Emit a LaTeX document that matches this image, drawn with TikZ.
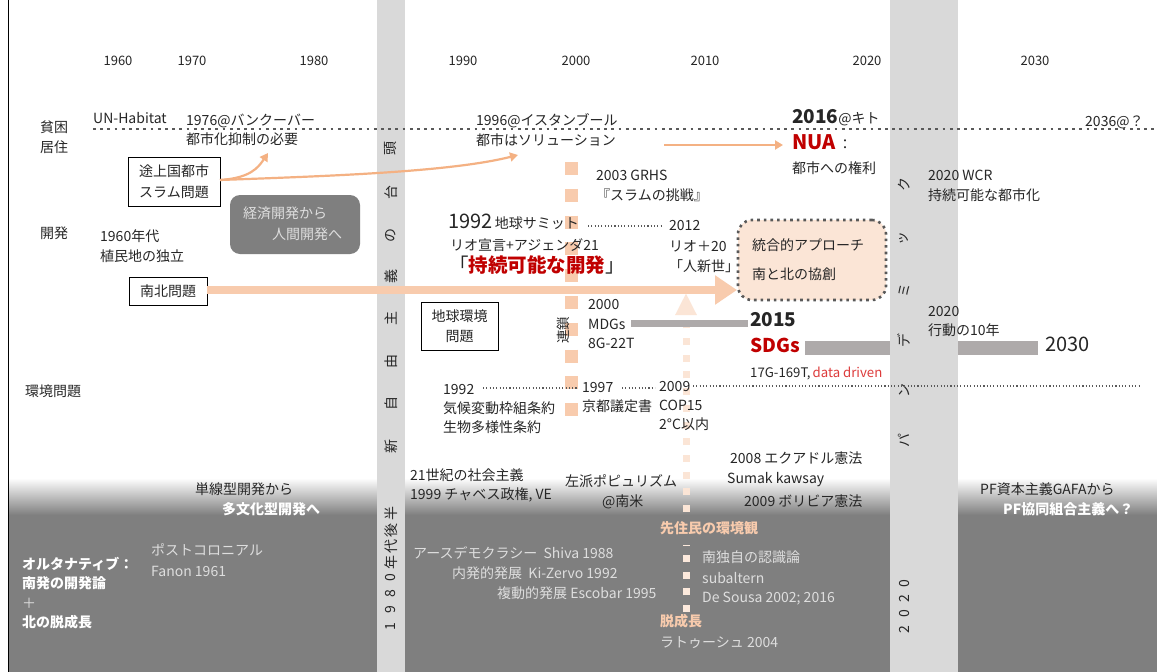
\documentclass[tikz,border=0pt]{standalone}
\usepackage{fontspec}
\setmainfont{Noto Sans CJK JP}
\usetikzlibrary{arrows.meta}
\definecolor{txt}{HTML}{262626}
\definecolor{band}{HTML}{D9D9D9}
\definecolor{dark}{HTML}{7F7F7F}
\definecolor{peach}{HTML}{F8CBAD}
\definecolor{orng}{HTML}{F4B183}
\definecolor{pale}{HTML}{FBE5D6}
\definecolor{redd}{HTML}{C00000}
\definecolor{barc}{HTML}{AEAAAA}
\definecolor{dotc}{HTML}{595959}
\definecolor{lite}{HTML}{DEDEDE}
\definecolor{ddred}{HTML}{DD3B3B}
\begin{document}
\begin{tikzpicture}[x=1pt,y=-1pt,
  t/.style={anchor=west,inner sep=0pt,text=txt,font=\fontsize{14}{16}\selectfont,text height=10.5pt,text depth=2.5pt},
  tl/.style={t,text=lite},
  tw/.style={t,text=white,font=\fontsize{14}{16}\selectfont\bfseries},
  tp/.style={t,text=peach,font=\fontsize{14}{16}\selectfont\bfseries},
  yr/.style={anchor=center,inner sep=0pt,text=txt,font=\fontsize{13}{16}\selectfont},
  bt/.style={inner sep=0pt,text=txt,font=\fontsize{14}{16}\selectfont,rotate=90},
  boxn/.style={draw=black,line width=0.9pt,inner sep=0pt,align=center,text=txt,font=\fontsize{14}{21}\selectfont},
  thinarrow/.style={draw=orng,line width=2.2pt,-{Triangle[length=8pt,width=9pt]}},
  bigdots/.style={draw=dotc,line width=2.8pt,dash pattern=on 2.8pt off 4.4pt},
  smalldots/.style={draw=dotc,line width=1.1pt,dash pattern=on 1.1pt off 2.2pt},
]
\useasboundingbox (0,0) rectangle (1157,672);
\fill[white] (0,0) rectangle (1157,672);
% bottom dark area
\fill[dark] (8,514) rectangle (1157,672);
\shade[top color=white,bottom color=dark] (8,478) rectangle (1157,515);
% vertical bands
\fill[band] (377,0) rectangle (405,672);
\fill[band] (890,0) rectangle (958,672);
% left frame
\draw[black,line width=1pt] (8,0) -- (8,672);

% years
\node[yr] (y1960) at (118,61) {1960};
\node[yr] (y1970) at (192,61) {1970};
\node[yr] (y1980) at (314,61) {1980};
\node[yr] (y1990) at (463,61) {1990};
\node[yr] (y2000) at (576,61) {2000};
\node[yr] (y2010) at (705,61) {2010};
\node[yr] (y2020) at (867,61) {2020};
\node[yr] (y2030) at (1035,61) {2030};

% band texts
\foreach \c/\yy in {頭/148,台/192,の/235,義/276,主/318,由/361,自/403,新/446}
  \node[bt] (lb\yy) at (391,\yy) {\c};
\foreach \c/\yy in {半/513,後/530,代/546,年/562,0/578,8/594,9/610,1/627}
  \node[bt] (lc\yy) at (391,\yy) {\c};
\foreach \c/\yy in {ク/184,ッ/238,ミ/290,デ/340,ン/390,パ/440}
  \node[bt] (rb\yy) at (904,\yy) {\c};
\foreach \c/\yy in {0/584,2/599,0/614,2/630}
  \node[bt] (rc\yy) at (904,\yy) {\c};

% row labels
\node[t] (hin) at (40,128) {貧困};
\node[t] (kyo) at (40,148) {居住};
\node[t] (kai) at (40,234) {開発};
\node[t] (kan) at (25,392) {環境問題};

% habitat row
\draw[bigdots] (93,129) -- (1157,129);
\node[t] (unh) at (93,119) {UN-Habitat};
\node[t] (v1) at (186,121) {1976@バンクーバー};
\node[t] (v2) at (186,140) {都市化抑制の必要};
\node[boxn,minimum width=92pt,minimum height=49pt] (slum) at (174,181.5) {途上国都市\\スラム問題};
\node[t] (i1) at (476,121) {1996@イスタンブール};
\node[t] (i2) at (476,141) {都市はソリューション};
\node[t] (q1) at (792,119) {{\fontsize{19}{20}\selectfont\bfseries 2016}@キト};
\node[t] (q2) at (792,145) {{\fontsize{20}{20}\selectfont\bfseries\color{redd}NUA}\,：};
\node[t] (q3) at (792,169) {都市への権利};
\node[t] (f36) at (1085,122) {2036@？};
\node[t] (w1) at (928,176) {2020 WCR};
\node[t] (w2) at (928,196) {持続可能な都市化};
\coordinate (slumE) at (220,180);
\coordinate (vanc) at (268,153);
\coordinate (ista) at (518,155);
\coordinate (solE) at (664,145);
\coordinate (nuaW) at (783,145);
\draw[thinarrow] (slumE) .. controls (250,178) and (258,168) .. (vanc);
\draw[thinarrow] (slumE) .. controls (330,176) and (450,172) .. (ista);
\draw[thinarrow] (solE) -- (nuaW);

% squares column
\coordinate (sqT) at (571,162);
\coordinate (sqB) at (571,416.5);
\draw[peach,line width=13pt,dash pattern=on 13pt off 13.8pt] (sqT) -- (sqB);
\node[bt,font=\fontsize{13.5}{16}\selectfont] (rensa) at (563,330) {連鎖};

% development row
\node[t] (g1) at (596,176) {2003 GRHS};
\node[t] (g2) at (596,196) {『スラムの挑戦』};
\node[t] (c1) at (100,237) {1960年代};
\node[t] (c2) at (100,257) {植民地の独立};
\node[fill=dark,rounded corners=10pt,minimum width=130pt,minimum height=59pt,inner sep=0pt] (eco) at (295,224.5) {};
\node[t,text=lite,font=\fontsize{14}{16}\selectfont] (e1) at (243,214) {経済開発から};
\node[t,text=lite,font=\fontsize{14}{16}\selectfont] (e2) at (272,235) {人間開発へ};
\node[t] (r1) at (448,224) {{\fontsize{20}{20}\selectfont 1992}\,地球サミット};
\coordinate (rioA) at (588,226);
\coordinate (rioB) at (662,226);
\draw[smalldots] (rioA) -- (rioB);
\node[t] (r2) at (450,246) {リオ宣言+アジェンダ21};
\node[t,font=\fontsize{19.5}{20}\selectfont] (r3) at (449,268) {「\textcolor{redd}{\bfseries 持続可能な開発}」};
\node[t] (p1) at (669,226) {2012};
\node[t] (p2) at (669,247) {リオ＋20};
\node[t] (p3) at (669,267) {「人新世」};
\node[fill=pale,draw=dotc,line width=2.6pt,dash pattern=on 2.6pt off 4pt,rounded corners=14pt,minimum width=148pt,minimum height=80pt,inner sep=0pt] (integ) at (812,260) {};
\node[t,font=\fontsize{14}{16}\selectfont] (n1) at (752,246) {統合的アプローチ};
\node[t,font=\fontsize{14}{16}\selectfont] (n2) at (752,275) {南と北の協創};
\node[boxn,minimum width=78pt,minimum height=28pt] (nanboku) at (168,291) {南北問題};
\coordinate (nbE) at (207,290);
\coordinate (bigEnd) at (737,290);
\draw[peach,line width=8pt,-{Triangle[length=22pt,width=28pt]}] (nbE) -- (bigEnd);

% up arrow
\coordinate (upA) at (686,612);
\coordinate (upB) at (686,545);
\coordinate (upC) at (686,512);
\coordinate (upTop) at (686,293);
\draw[pale!85!white,line width=7pt,dash pattern=on 7pt off 9.7pt] (upA) -- (upB);
\draw[pale,line width=7pt,dash pattern=on 7pt off 9.7pt,-{Triangle[length=22pt,width=20pt]}] (upC) -- (upTop);

% MDGs / SDGs
\node[boxn,minimum width=77pt,minimum height=48pt,font=\fontsize{14}{20}\selectfont] (chikyu) at (459.5,326) {地球環境\\問題};
\node[t] (m1) at (588,305) {2000};
\node[t] (m2) at (588,325) {MDGs};
\node[t] (m3) at (588,344) {8G-22T};
\coordinate (mdA) at (631,323);
\coordinate (mdB) at (748,323);
\draw[barc,line width=7pt] (mdA) -- (mdB);
\node[t] (s1) at (750,322) {\fontsize{19}{20}\selectfont\bfseries 2015};
\node[t] (s2) at (750,348) {\fontsize{19}{20}\selectfont\bfseries\color{redd}SDGs};
\node[t,font=\fontsize{13.2}{16}\selectfont] (s3) at (750,373) {17G-169T,\,\textcolor{ddred}{data driven}};
\coordinate (sdA) at (805,348);
\coordinate (sdB) at (890,348);
\coordinate (sdC) at (958,348);
\coordinate (sdD) at (1038,348);
\draw[barc,line width=14pt] (sdA) -- (sdB);
\draw[barc,line width=14pt] (sdC) -- (sdD);
\node[t] (s2030) at (1045,347) {\fontsize{20}{20}\selectfont 2030};
\node[t] (k1) at (928,312) {2020};
\node[t] (k2) at (928,331) {行動の10年};

% environment row
\coordinate (envA) at (483,388);
\coordinate (envB) at (578,388);
\coordinate (envC) at (622,388);
\coordinate (envD) at (655,388);
\coordinate (envE) at (693,386);
\coordinate (envF) at (1140,386);
\draw[smalldots] (envA) -- (envB);
\draw[smalldots] (envC) -- (envD);
\draw[smalldots] (envE) -- (envF);
\node[t] (u1) at (443,390) {1992};
\node[t] (u2) at (443,409) {気候変動枠組条約};
\node[t] (u3) at (443,428) {生物多様性条約};
\node[t] (o1) at (582,388) {1997};
\node[t] (o2) at (582,407) {京都議定書};
\node[t] (h1) at (659,387) {2009};
\node[t] (h2) at (659,406) {COP15};
\node[t] (h3) at (659,425) {2°C以内};

% bottom area
\node[t] (b1) at (410,476) {21世紀の社会主義};
\node[t] (b2) at (410,495) {1999 チャベス政権, VE};
\node[t] (b3) at (565,482) {左派ポピュリズム};
\node[t] (b4) at (602,502) {@南米};
\node[t] (b5) at (730,459) {2008 エクアドル憲法};
\node[t] (b6) at (727,479) {Sumak kawsay};
\node[t] (b7) at (744,502) {2009 ボリビア憲法};
\node[t] (d1) at (195,490) {単線型開発から};
\node[tw] (d2) at (222,510) {多文化型開発へ};
\node[t] (pf1) at (980,490) {PF資本主義GAFAから};
\node[tw] (pf2) at (1003,510) {PF協同組合主義へ？};
\node[tw] (al1) at (22,565) {オルタナティブ：};
\node[tw] (al2) at (22,584) {南発の開発論};
\node[tl] (al3) at (22,604) {＋};
\node[tw] (al4) at (22,623) {北の脱成長};
\node[tl] (pc1) at (151,551) {ポストコロニアル};
\node[tl] (pc2) at (151,572) {Fanon 1961};
\node[tl] (ea1) at (413,554) {アースデモクラシー\ \ Shiva 1988};
\node[tl] (ea2) at (452,574) {内発的発展\ \ Ki-Zervo 1992};
\node[tl] (ea3) at (497,594) {複動的発展 Escobar 1995};
\node[tp] (sj) at (660,529) {先住民の環境観};
\node[tl] (sj1) at (702,558) {南独自の認識論};
\node[tl] (sj2) at (702,579) {subaltern};
\node[tl] (sj3) at (702,598) {De Sousa 2002; 2016};
\node[tp] (dg) at (660,622) {脱成長};
\node[tl] (dg1) at (660,643) {ラトゥーシュ 2004};
\end{tikzpicture}
\end{document}
